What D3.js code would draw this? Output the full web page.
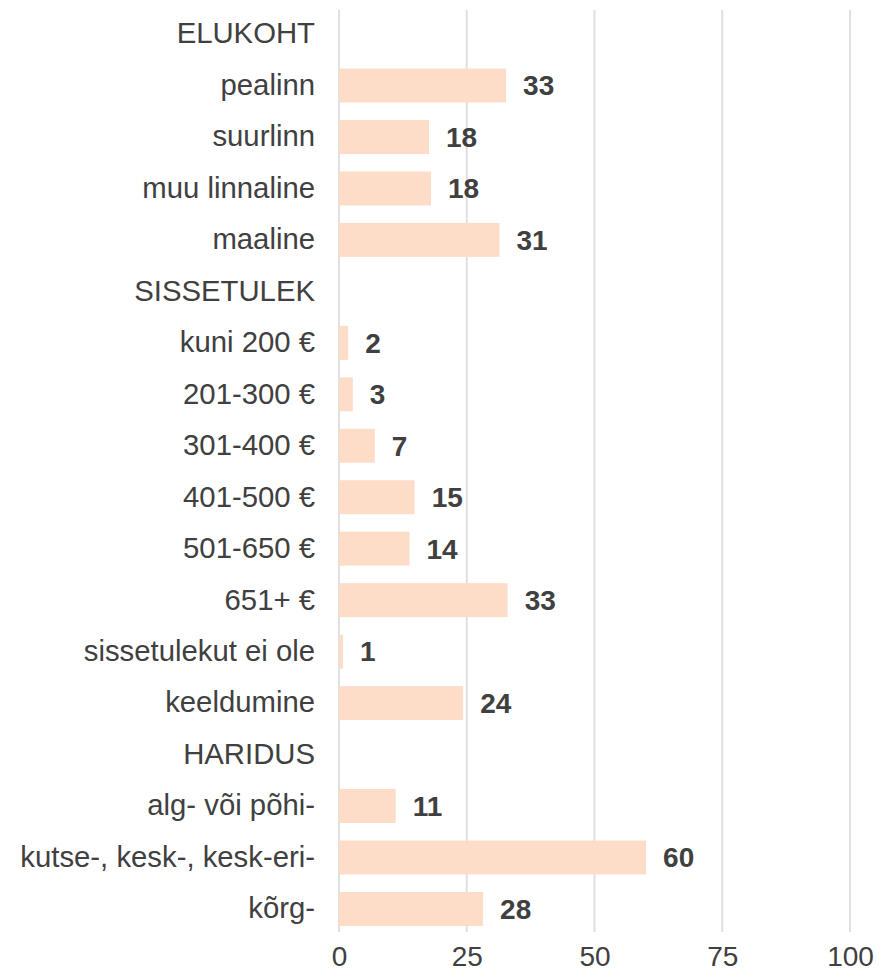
<!DOCTYPE html>
<html>
<head>
<meta charset="utf-8">
<script src="https://cdn.jsdelivr.net/npm/d3@7"></script>
<style>
  html, body { margin: 0; padding: 0; background: #fff; }
  text { font-family: "Liberation Sans", Arial, Helvetica, sans-serif; }
</style>
</head>
<body>
<svg id="chart" width="879" height="974"></svg>
<script>
const categories = [
  "ELUKOHT", "pealinn", "suurlinn", "muu linnaline", "maaline",
  "SISSETULEK", "kuni 200 €", "201-300 €", "301-400 €", "401-500 €", "501-650 €", "651+ €",
  "sissetulekut ei ole", "keeldumine",
  "HARIDUS", "alg- või põhi-", "kutse-, kesk-, kesk-eri-", "kõrg-"
];
const values = [
  null, 32.7, 17.6, 18.0, 31.4,
  null, 1.8, 2.7, 7.0, 14.8, 13.8, 33.0,
  0.8, 24.3,
  null, 11.1, 60.1, 28.2
];
const labels = [
  "", "33", "18", "18", "31",
  "", "2", "3", "7", "15", "14", "33",
  "1", "24",
  "", "11", "60", "28"
];
const xTicks = [0, 25, 50, 75, 100];

const data = categories.map((c, i) => ({ cat: c, value: values[i], label: labels[i] }));

const svg = d3.select("#chart");
const x = d3.scaleLinear().domain([0, 100]).range([339, 850]);
const y = d3.scaleBand().domain(categories).range([8.3, 934.7]).paddingInner(0.34).paddingOuter(0.17);

const textColor = "#404040";

// gridlines
svg.append("g").selectAll("line").data(xTicks).join("line")
  .attr("x1", d => x(d)).attr("x2", d => x(d))
  .attr("y1", 10).attr("y2", 932)
  .attr("stroke", "#e0e0e0").attr("stroke-width", 2);

// x axis labels
const xAxis = d3.axisBottom(x).tickValues(xTicks).tickSize(0).tickPadding(0);
const gx = svg.append("g").attr("transform", "translate(0,946)").call(xAxis);
gx.select(".domain").remove();
gx.selectAll("text").attr("font-size", 28).attr("fill", textColor)
  .attr("font-family", "'Liberation Sans', Arial, sans-serif");

// y axis labels
const yAxis = d3.axisLeft(y).tickSize(0).tickPadding(0);
const gy = svg.append("g").attr("transform", "translate(315,0)").call(yAxis);
gy.select(".domain").remove();
gy.selectAll("text").attr("font-size", 29.3).attr("fill", textColor)
  .attr("font-family", "'Liberation Sans', Arial, sans-serif");

// bars
const barData = data.filter(d => d.value !== null);
svg.append("g").selectAll("rect").data(barData).join("rect")
  .attr("x", x(0))
  .attr("y", d => y(d.cat))
  .attr("width", d => x(d.value) - x(0))
  .attr("height", y.bandwidth())
  .attr("fill", "#fddcc8");

// value labels
svg.append("g").selectAll("text").data(barData).join("text")
  .attr("x", d => x(d.value) + 17)
  .attr("y", d => y(d.cat) + y.bandwidth() / 2)
  .attr("dy", "0.35em")
  .attr("font-size", 28)
  .attr("font-weight", "bold")
  .attr("fill", textColor)
  .text(d => d.label);
</script>
</body>
</html>
